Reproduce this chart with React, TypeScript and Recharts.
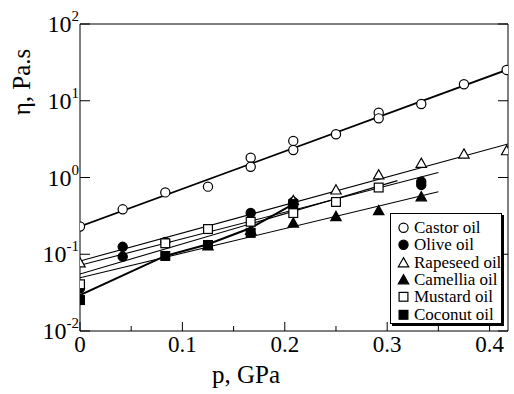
import React from 'react'
import { ComposedChart, Scatter, Line, XAxis, YAxis } from 'recharts'

const FONT = '"Times New Roman", "Liberation Serif", Times, serif'

// pressure (GPa) and viscosity (Pa.s)
const castorP = [0, 0.0417, 0.0833, 0.125, 0.1667, 0.1667, 0.2083, 0.2083, 0.25, 0.2917, 0.2917, 0.3333, 0.375, 0.4167]
const castorEta = [0.23, 0.385, 0.64, 0.76, 1.81, 1.38, 3.0, 2.28, 3.66, 7.0, 5.9, 9.07, 16.4, 25.2]
const castorFitP = [0, 0.418]
const castorFitEta = [0.23, 25.6]

const oliveP = [0, 0.0417, 0.0417, 0.0833, 0.1667, 0.2083, 0.3333, 0.3333]
const oliveEta = [0.036, 0.125, 0.093, 0.145, 0.345, 0.48, 0.88, 0.8]
const oliveFitP = [0, 0.35]
const oliveFitEta = [0.0718, 1.16]

const rapeP = [0, 0.2083, 0.25, 0.2917, 0.3333, 0.375, 0.4167]
const rapeEta = [0.077, 0.5, 0.687, 1.08, 1.53, 2.02, 2.23]
const rapeFitP = [0, 0.418]
const rapeFitEta = [0.0817, 2.73]

const camelliaP = [0.125, 0.1667, 0.2083, 0.25, 0.2917, 0.3333]
const camelliaEta = [0.128, 0.205, 0.255, 0.31, 0.37, 0.56]
const camelliaFitP = [0, 0.35]
const camelliaFitEta = [0.0494, 0.653]

const mustardP = [0, 0.0833, 0.125, 0.1667, 0.2083, 0.25, 0.2917]
const mustardEta = [0.0406, 0.139, 0.213, 0.265, 0.344, 0.48, 0.74]
const mustardFitP = [0, 0.31]
const mustardFitEta = [0.0553, 0.91]

const coconutP = [0, 0.0833, 0.125, 0.1667, 0.2083]
const coconutEta = [0.0253, 0.095, 0.132, 0.19, 0.45]
const coconutFitP = [0, 0.0833, 0.125, 0.1667, 0.2083]
const coconutFitEta = [0.0294, 0.095, 0.135, 0.22, 0.45]

const xTicks = [0, 0.05, 0.1, 0.15, 0.2, 0.25, 0.3, 0.35, 0.4]
const xMajor = [0, 0.1, 0.2, 0.3, 0.4]
const xLabels = ['0', '0.1', '0.2', '0.3', '0.4']
const yTicks = [0.01, 0.1, 1, 10, 100]
const yExp = ['-2', '-1', '0', '1', '2']

const zip = (p: number[], eta: number[]) => p.map((v, i) => ({ p: v, eta: eta[i] }))

type Kind = 'openCircle' | 'circle' | 'openTriangle' | 'triangle' | 'openSquare' | 'square'

const series: { name: string; kind: Kind; points: any[]; fit: any[]; width: number }[] = [
    { name: 'Castor oil', kind: 'openCircle', points: zip(castorP, castorEta), fit: zip(castorFitP, castorFitEta), width: 1.8 },
    { name: 'Olive oil', kind: 'circle', points: zip(oliveP, oliveEta), fit: zip(oliveFitP, oliveFitEta), width: 1.1 },
    { name: 'Rapeseed oil', kind: 'openTriangle', points: zip(rapeP, rapeEta), fit: zip(rapeFitP, rapeFitEta), width: 1.1 },
    { name: 'Camellia oil', kind: 'triangle', points: zip(camelliaP, camelliaEta), fit: zip(camelliaFitP, camelliaFitEta), width: 1.1 },
    { name: 'Mustard oil', kind: 'openSquare', points: zip(mustardP, mustardEta), fit: zip(mustardFitP, mustardFitEta), width: 1.1 },
    { name: 'Coconut oil', kind: 'square', points: zip(coconutP, coconutEta), fit: zip(coconutFitP, coconutFitEta), width: 2 }
]

const Marker = ({ kind, cx, cy }: { kind: Kind; cx: number; cy: number }) => {
    const open = kind.startsWith('open')
    const fill = open ? '#fff' : '#000'
    if (kind === 'openCircle' || kind === 'circle') {
        return <circle cx={cx} cy={cy} r={4.6} fill={fill} stroke="#000" strokeWidth={1.2} />
    }
    if (kind === 'openSquare' || kind === 'square') {
        return <rect x={cx - 4.4} y={cy - 4.4} width={8.8} height={8.8} fill={fill} stroke="#000" strokeWidth={1.2} />
    }
    return (
        <polygon
            points={`${cx},${cy - 5.2} ${cx + 5.2},${cy + 4} ${cx - 5.2},${cy + 4}`}
            fill={fill}
            stroke="#000"
            strokeWidth={1.2}
        />
    )
}

const isMajor = (v: number) => xMajor.some((m) => Math.abs(m - v) < 1e-6)

const XTickBottom = (props: any) => {
    const { x, y, payload } = props
    const idx = xMajor.findIndex((m) => Math.abs(m - payload.value) < 1e-6)
    return (
        <g>
            <line x1={x} x2={x} y1={y} y2={y - (idx >= 0 ? 9 : 5)} stroke="#000" />
            {idx >= 0 && (
                <text x={x} y={y + 21} textAnchor="middle" style={{ fontFamily: FONT }} fontSize={23} fill="#000">
                    {xLabels[idx]}
                </text>
            )}
        </g>
    )
}

const XTickTop = (props: any) => {
    const { x, y, payload } = props
    return <line x1={x} x2={x} y1={y} y2={y + (isMajor(payload.value) ? 9 : 5)} stroke="#000" />
}

const YTickLeft = (props: any) => {
    const { x, y, index } = props
    return (
        <g>
            <line x1={x} x2={x + 10} y1={y} y2={y} stroke="#000" />
            <text x={x - 1} y={y + 8} textAnchor="end" style={{ fontFamily: FONT }} fontSize={24} fill="#000">
                10
                <tspan dy={-11} fontSize={15}>{yExp[index]}</tspan>
            </text>
        </g>
    )
}

const YTickRight = (props: any) => {
    const { x, y } = props
    return <line x1={x} x2={x - 10} y1={y} y2={y} stroke="#000" />
}

const App = () => {
    return (
        <div style={{ position: 'absolute', left: 0, top: 0, width: 514, height: 394, background: '#fff', fontFamily: FONT }}>
            <ComposedChart width={514} height={394} margin={{ top: 4, right: 0, bottom: 23, left: 20 }}>
                <XAxis
                    dataKey="p"
                    type="number"
                    domain={[0, 0.418]}
                    allowDataOverflow
                    ticks={xTicks}
                    interval={0}
                    height={40}
                    tickSize={0}
                    tickMargin={0}
                    tickLine={false}
                    axisLine={{ stroke: '#000', strokeWidth: 1 }}
                    tick={<XTickBottom />}
                />
                <XAxis
                    xAxisId="top"
                    orientation="top"
                    type="number"
                    domain={[0, 0.418]}
                    allowDataOverflow
                    ticks={xTicks}
                    interval={0}
                    height={20}
                    tickSize={0}
                    tickMargin={0}
                    tickLine={false}
                    axisLine={{ stroke: '#000', strokeWidth: 1 }}
                    tick={<XTickTop />}
                />
                <YAxis
                    dataKey="eta"
                    scale="log"
                    domain={[0.01, 100]}
                    allowDataOverflow
                    ticks={yTicks}
                    interval={0}
                    width={60}
                    tickSize={0}
                    tickMargin={0}
                    tickLine={false}
                    axisLine={{ stroke: '#000', strokeWidth: 1 }}
                    tick={<YTickLeft />}
                />
                <YAxis
                    yAxisId="right"
                    orientation="right"
                    scale="log"
                    domain={[0.01, 100]}
                    allowDataOverflow
                    ticks={yTicks}
                    interval={0}
                    width={6}
                    tickSize={0}
                    tickMargin={0}
                    tickLine={false}
                    axisLine={{ stroke: '#000', strokeWidth: 1 }}
                    tick={<YTickRight />}
                />
                {series.map((s) => (
                    <Line
                        key={'fit-' + s.name}
                        data={s.fit}
                        dataKey="eta"
                        type="linear"
                        stroke="#000"
                        strokeWidth={s.width}
                        dot={false}
                        activeDot={false}
                        isAnimationActive={false}
                    />
                ))}
                {series.map((s) => (
                    <Scatter
                        key={'pts-' + s.name}
                        name={s.name}
                        data={s.points}
                        dataKey="eta"
                        isAnimationActive={false}
                        shape={(p: any) => <Marker kind={s.kind} cx={p.cx} cy={p.cy} />}
                    />
                ))}
                <text x={246} y={383} textAnchor="middle" style={{ fontFamily: FONT }} fontSize={25} fill="#000">
                    p, GPa
                </text>
                <text
                    x={30}
                    y={82}
                    textAnchor="middle"
                    style={{ fontFamily: FONT }}
                    fontSize={25}
                    fill="#000"
                    transform="rotate(-90, 30, 82)"
                >
                    η, Pa.s
                </text>
            </ComposedChart>

            {/* Legend */}
            <div
                style={{
                    position: 'absolute',
                    left: 390,
                    top: 213,
                    width: 112,
                    height: 111,
                    border: '1px solid #000',
                    boxShadow: '2px 2px 0 #000',
                    background: '#fff',
                    fontFamily: FONT,
                    fontSize: 17,
                    boxSizing: 'border-box'
                }}
            >
                {series.map((s, i) => (
                    <div
                        key={s.name}
                        style={{
                            position: 'absolute',
                            left: 6,
                            top: 5 + i * 17.3,
                            height: 17,
                            lineHeight: '17px',
                            display: 'flex',
                            alignItems: 'center',
                            whiteSpace: 'nowrap'
                        }}
                    >
                        <svg width={13} height={13}>
                            <Marker kind={s.kind} cx={6.5} cy={6.8} />
                        </svg>
                        <span style={{ marginLeft: 4 }}>{s.name}</span>
                    </div>
                ))}
            </div>
        </div>
    )
}

export default App
